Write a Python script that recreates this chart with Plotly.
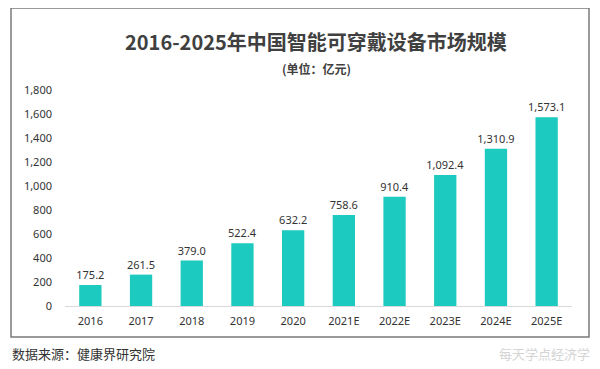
import plotly.graph_objects as go

categories = ["2016", "2017", "2018", "2019", "2020", "2021E", "2022E", "2023E", "2024E", "2025E"]
values = [175.2, 261.5, 379.0, 522.4, 632.2, 758.6, 910.4, 1092.4, 1310.9, 1573.1]
y_ticks = [0, 200, 400, 600, 800, 1000, 1200, 1400, 1600, 1800]

# the page body has an 8px margin, so the figure is drawn 8px smaller and
# all reference pixel positions are shifted by OFF
OFF = 8
W, H = 600 - OFF, 369 - OFF
ML, MR, MT, MB = 65 - OFF, 28, 90 - OFF, 63
PW, PH = W - ML - MR, H - MT - MB

def px(x):
    return (x - OFF - ML) / PW

def py(y):
    return (H - MB - (y - OFF)) / PH

FONT = "Noto Sans, Noto Sans CJK SC, sans-serif"
CJK = "Noto Sans CJK SC, sans-serif"

fig = go.Figure(go.Bar(
    x=categories, y=values,
    marker=dict(color="#1ccac0", line=dict(width=0)),
    texttemplate="%{y:,.1f}", textposition="outside", constraintext="none",
    textfont=dict(size=11, color="#333333", family=FONT),
    cliponaxis=False,
))

fig.update_layout(
    width=W, height=H,
    margin=dict(l=ML, r=MR, t=MT, b=MB),
    paper_bgcolor="#ffffff", plot_bgcolor="#ffffff",
    bargap=0.56, showlegend=False,
    font=dict(family=FONT, color="#333333"),
    xaxis=dict(showline=True, linecolor="#d9d9d9", linewidth=1, showgrid=False,
               ticks="", tickfont=dict(size=11, color="#333333"), ticklabelstandoff=5),
    yaxis=dict(range=[0, 1800], tickvals=y_ticks, tickformat=",", showgrid=False,
               zeroline=False, showline=False, ticks="",
               tickfont=dict(size=11, color="#333333"), ticklabelstandoff=12),
    shapes=[
        dict(type="rect", xref="paper", yref="paper", x0=px(11), x1=px(589), y0=py(8), y1=py(337),
             line=dict(color="#7a7a7a", width=1.5), fillcolor="rgba(0,0,0,0)", layer="above"),
    ],
    annotations=[
        dict(text="<b>2016-2025年中国智能可穿戴设备市场规模</b>", x=px(316), y=py(42), xref="paper", yref="paper",
             showarrow=False, font=dict(size=20, color="#404040", family=CJK), xanchor="center", yanchor="middle"),
        dict(text="<b>(单位：亿元)</b>", x=px(316), y=py(69), xref="paper", yref="paper",
             showarrow=False, font=dict(size=12, color="#404040", family=CJK), xanchor="center", yanchor="middle"),
        dict(text="数据来源：健康界研究院", x=px(10), y=py(353), xref="paper", yref="paper",
             showarrow=False, font=dict(size=13, color="#333333", family=CJK), xanchor="left", yanchor="middle"),
        dict(text="每天学点经济学", x=px(592), y=py(353), xref="paper", yref="paper",
             showarrow=False, font=dict(size=13, color="#d4d4d4", family=CJK), xanchor="right", yanchor="middle"),
    ],
)

fig.write_html("out.html")
